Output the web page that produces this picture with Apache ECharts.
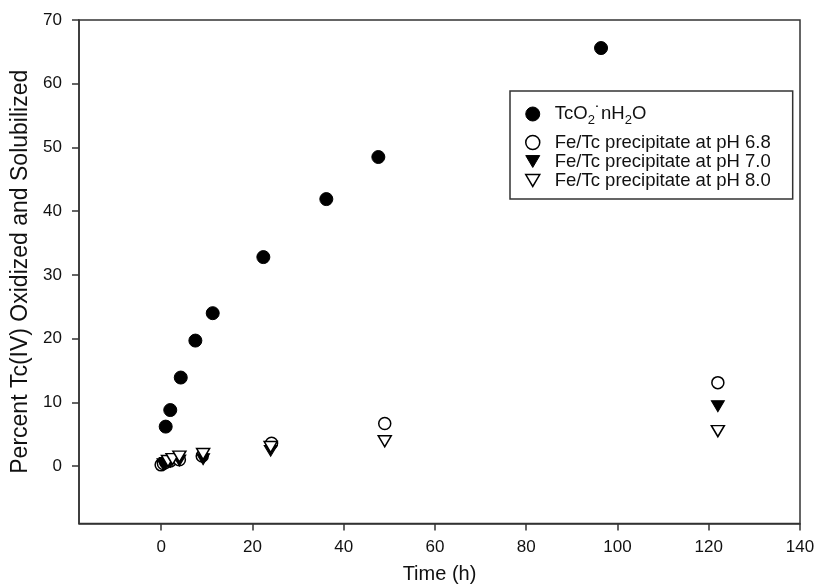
<!DOCTYPE html>
<html>
<head>
<meta charset="utf-8">
<script src="https://cdn.jsdelivr.net/npm/echarts@6/dist/echarts.min.js"></script>
<style>html,body{margin:0;padding:0;background:#fff}#c{width:815px;height:586px}</style>
</head>
<body>
<div id="c"></div>
<script>
// Data
const tcTime = [1, 2, 4.3, 7.5, 11.3, 22.4, 36.2, 47.6, 96.4];
const tcPct = [6.2, 8.8, 13.9, 19.7, 24.0, 32.8, 41.9, 48.5, 65.6];
const ph68Time = [0, 0.5, 1, 2, 4, 9, 24.2, 49, 122];
const ph68Pct = [0.2, 0.4, 0.6, 0.8, 1.0, 1.6, 3.6, 6.7, 13.1];
const ph70Time = [0.5, 1, 2, 4, 9.2, 24, 122];
const ph70Pct = [0.3, 0.5, 0.7, 0.9, 1.1, 2.4, 9.4];
const ph80Time = [1.5, 2.5, 4, 9.2, 24, 49, 122];
const ph80Pct = [0.8, 1.1, 1.5, 1.9, 3.0, 3.9, 5.5];
const xTicks = [0, 20, 40, 60, 80, 100, 120, 140];
const yTicks = [0, 10, 20, 30, 40, 50, 60, 70];
const seriesNames = ['TcO2·nH2O', 'Fe/Tc precipitate at pH 6.8', 'Fe/Tc precipitate at pH 7.0', 'Fe/Tc precipitate at pH 8.0'];

function pairs(xs, ys) { return xs.map((x, i) => [x, ys[i]]); }

const FONT = 'Liberation Sans, Arial, sans-serif';
const tri = 'path://M0,0L20,0L10,17Z';
const filledStyle = {color: '#000', borderColor: '#000', borderWidth: 1, opacity: 1};
const openStyle = {color: '#fff', borderColor: '#000', borderWidth: 1.5, opacity: 1};

const chart = echarts.init(document.getElementById('c'), null, {renderer: 'canvas'});
chart.setOption({
  animation: false,
  backgroundColor: '#fff',
  grid: {left: 79, right: 15, top: 20, bottom: 62.5, outerBoundsMode: 'none', containLabel: false,
         show: true, borderColor: '#333', borderWidth: 1.5},
  xAxis: {
    type: 'value', min: -18, max: 140,
    name: 'Time (h)', nameLocation: 'middle', nameGap: 41,
    nameTextStyle: {fontFamily: FONT, fontSize: 20, color: '#111'},
    axisLine: {show: true, onZero: false, lineStyle: {color: '#333', width: 1.5}},
    axisTick: {show: true, customValues: xTicks, length: 7, inside: false, lineStyle: {color: '#333', width: 1.5}},
    axisLabel: {customValues: xTicks, fontFamily: FONT, fontSize: 17, color: '#111', margin: 15},
    splitLine: {show: false}
  },
  yAxis: {
    type: 'value', min: -9, max: 70,
    name: 'Percent Tc(IV) Oxidized and Solubilized', nameLocation: 'middle', nameGap: 46,
    nameTextStyle: {fontFamily: FONT, fontSize: 23, color: '#111'},
    axisLine: {show: true, onZero: false, lineStyle: {color: '#333', width: 1.5}},
    axisTick: {show: true, customValues: yTicks, length: 7, inside: false, lineStyle: {color: '#333', width: 1.5}},
    axisLabel: {customValues: yTicks, fontFamily: FONT, fontSize: 17, color: '#111', margin: 17},
    splitLine: {show: false}
  },
  legend: {
    orient: 'vertical', left: 510, top: 91,
    borderColor: '#333', borderWidth: 1.5, borderRadius: 0,
    padding: [4, 22, 9, 15], itemGap: 0, itemWidth: 14, itemHeight: 14,
    textStyle: {fontFamily: FONT, fontSize: 18.5, color: '#111', lineHeight: 18, padding: [0, 0, 0, 10],
      rich: {
        n: {fontFamily: FONT, fontSize: 18.5, color: '#111', lineHeight: 26, verticalAlign: 'middle'},
        s: {fontFamily: FONT, fontSize: 13, color: '#111', lineHeight: 26, verticalAlign: 'bottom'},
        d: {fontFamily: FONT, fontSize: 18.5, color: '#111', lineHeight: 26, verticalAlign: 'middle'}
      }
    },
    formatter: function (name) {
      if (name === seriesNames[0]) {
        return '{n|TcO}{s|2}{d|˙}{n|nH}{s|2}{n|O}';
      }
      return name;
    },
    data: [
      {name: seriesNames[0], icon: 'circle', itemStyle: filledStyle,
       textStyle: {padding: [6, 0, 6, 10]}},
      {name: seriesNames[1], icon: 'circle', itemStyle: openStyle},
      {name: seriesNames[2], icon: tri, itemStyle: filledStyle},
      {name: seriesNames[3], icon: tri, itemStyle: openStyle}
    ]
  },
  series: [
    {name: seriesNames[0], type: 'scatter', data: pairs(tcTime, tcPct), symbol: 'circle', symbolSize: 13,
     itemStyle: filledStyle},
    {name: seriesNames[1], type: 'scatter', data: pairs(ph68Time, ph68Pct), symbol: 'circle', symbolSize: 12,
     itemStyle: openStyle},
    {name: seriesNames[2], type: 'scatter', data: pairs(ph70Time, ph70Pct), symbol: tri, symbolSize: [13, 11],
     itemStyle: filledStyle},
    {name: seriesNames[3], type: 'scatter', data: pairs(ph80Time, ph80Pct), symbol: tri, symbolSize: [13, 11],
     itemStyle: openStyle}
  ]
});
</script>
</body>
</html>
